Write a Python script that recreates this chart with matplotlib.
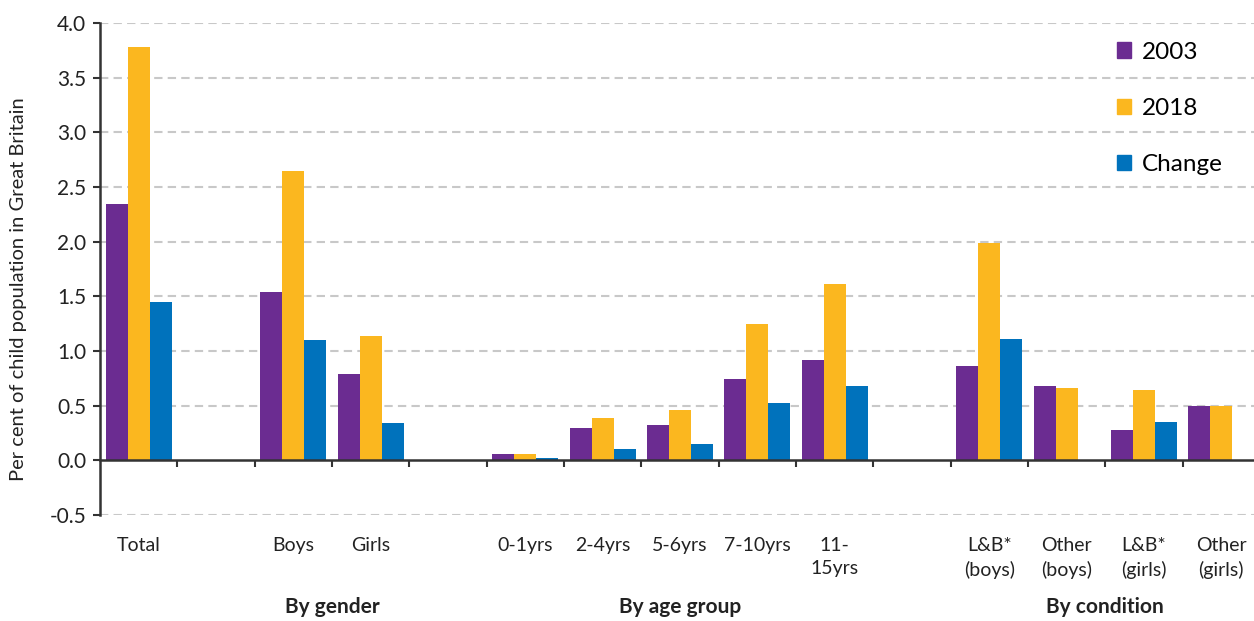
import numpy as np
import matplotlib.pyplot as plt
from matplotlib.patches import Patch

plt.rcParams['font.family'] = ['Lato', 'DejaVu Sans']

# categories (blank slots separate the groups)
categorias = ["Total", "", "Boys", "Girls", "", "0-1yrs", "2-4yrs", "5-6yrs",
              "7-10yrs", "11-\n15yrs", "", "L&B*\n(boys)", "Other\n(boys)",
              "L&B*\n(girls)", "Other\n(girls)"]
nan = np.nan
v2003 = [2.34, nan, 1.54, 0.79, nan, 0.06, 0.30, 0.32, 0.74, 0.92, nan, 0.86, 0.68, 0.28, 0.50]
v2018 = [3.78, nan, 2.65, 1.14, nan, 0.06, 0.39, 0.46, 1.25, 1.61, nan, 1.99, 0.66, 0.64, 0.50]
cambio = [1.45, nan, 1.10, 0.34, nan, 0.02, 0.10, 0.15, 0.52, 0.68, nan, 1.11, nan, 0.35, nan]
grupos = ["By gender", "By age group", "By condition"]
grupos_x = [2.5, 7, 12.5]

c2003 = "#6B2C91"
c2018 = "#FBB71F"
ccambio = "#0072BC"

fig = plt.figure(figsize=(12.54, 6.21), dpi=100)
ax = fig.add_axes([100 / 1254, 1 - 515 / 621, 1160 / 1254, 492 / 621])

x = np.arange(len(categorias))
ancho = 0.285
ax.bar(x - ancho, v2003, ancho, color=c2003, zorder=3)
ax.bar(x, v2018, ancho, color=c2018, zorder=3)
ax.bar(x + ancho, cambio, ancho, color=ccambio, zorder=3)

ax.set_xlim(-0.5, len(categorias) - 0.5)
ax.set_ylim(-0.5, 4.0)

# grid
for yv in np.arange(-0.5, 4.01, 0.5):
    if abs(yv) > 1e-9:
        ax.axhline(yv, color="#C8C8C8", lw=1.5, ls=(0, (4, 2.5)), zorder=1)

ax.spines['top'].set_visible(False)
ax.spines['right'].set_visible(False)
ax.spines['bottom'].set_position(('data', 0))
ax.spines['bottom'].set_color("#333333")
ax.spines['bottom'].set_linewidth(1.8)
ax.spines['bottom'].set_zorder(4)
ax.spines['left'].set_color("#333333")
ax.spines['left'].set_linewidth(1.8)

ax.set_yticks(np.arange(-0.5, 4.01, 0.5))
ax.set_yticklabels(["{:.1f}".format(v) for v in np.arange(-0.5, 4.01, 0.5)])
ax.tick_params(axis='y', direction='out', length=5, width=1.5, color="#333333",
               labelsize=15, labelcolor="#222222", pad=5)

ax.set_xticks(x)
ax.set_xticklabels(categorias, va='top', linespacing=1.45)
ax.set_xticks(np.arange(0.5, len(categorias) - 0.5, 1), minor=True)
ax.tick_params(axis='x', which='major', length=0, labelsize=14, labelcolor="#222222", pad=55)
ax.tick_params(axis='x', which='minor', direction='out', length=5, width=1.5, color="#333333")

for g, gx in zip(grupos, grupos_x):
    ax.text(gx, -0.187, g, transform=ax.get_xaxis_transform(), ha='center', va='center',
            fontsize=15, fontweight='bold', color="#222222")

ax.set_ylabel("Per cent of child population in Great Britain", fontsize=14.5, color="#222222")
ax.yaxis.set_label_coords(-0.0625, 0.46)

manijas = [Patch(color=c2003), Patch(color=c2018), Patch(color=ccambio)]
ax.legend(manijas, ["2003", "2018", "Change"], loc='upper left',
          bbox_to_anchor=(1107 / 1254, 1 - 32 / 621), bbox_transform=fig.transFigure,
          frameon=False, fontsize=17.5, handlelength=0.6, handleheight=0.6,
          handletextpad=0.45, labelspacing=1.45, borderaxespad=0)

fig.savefig("out.png", dpi=100)
